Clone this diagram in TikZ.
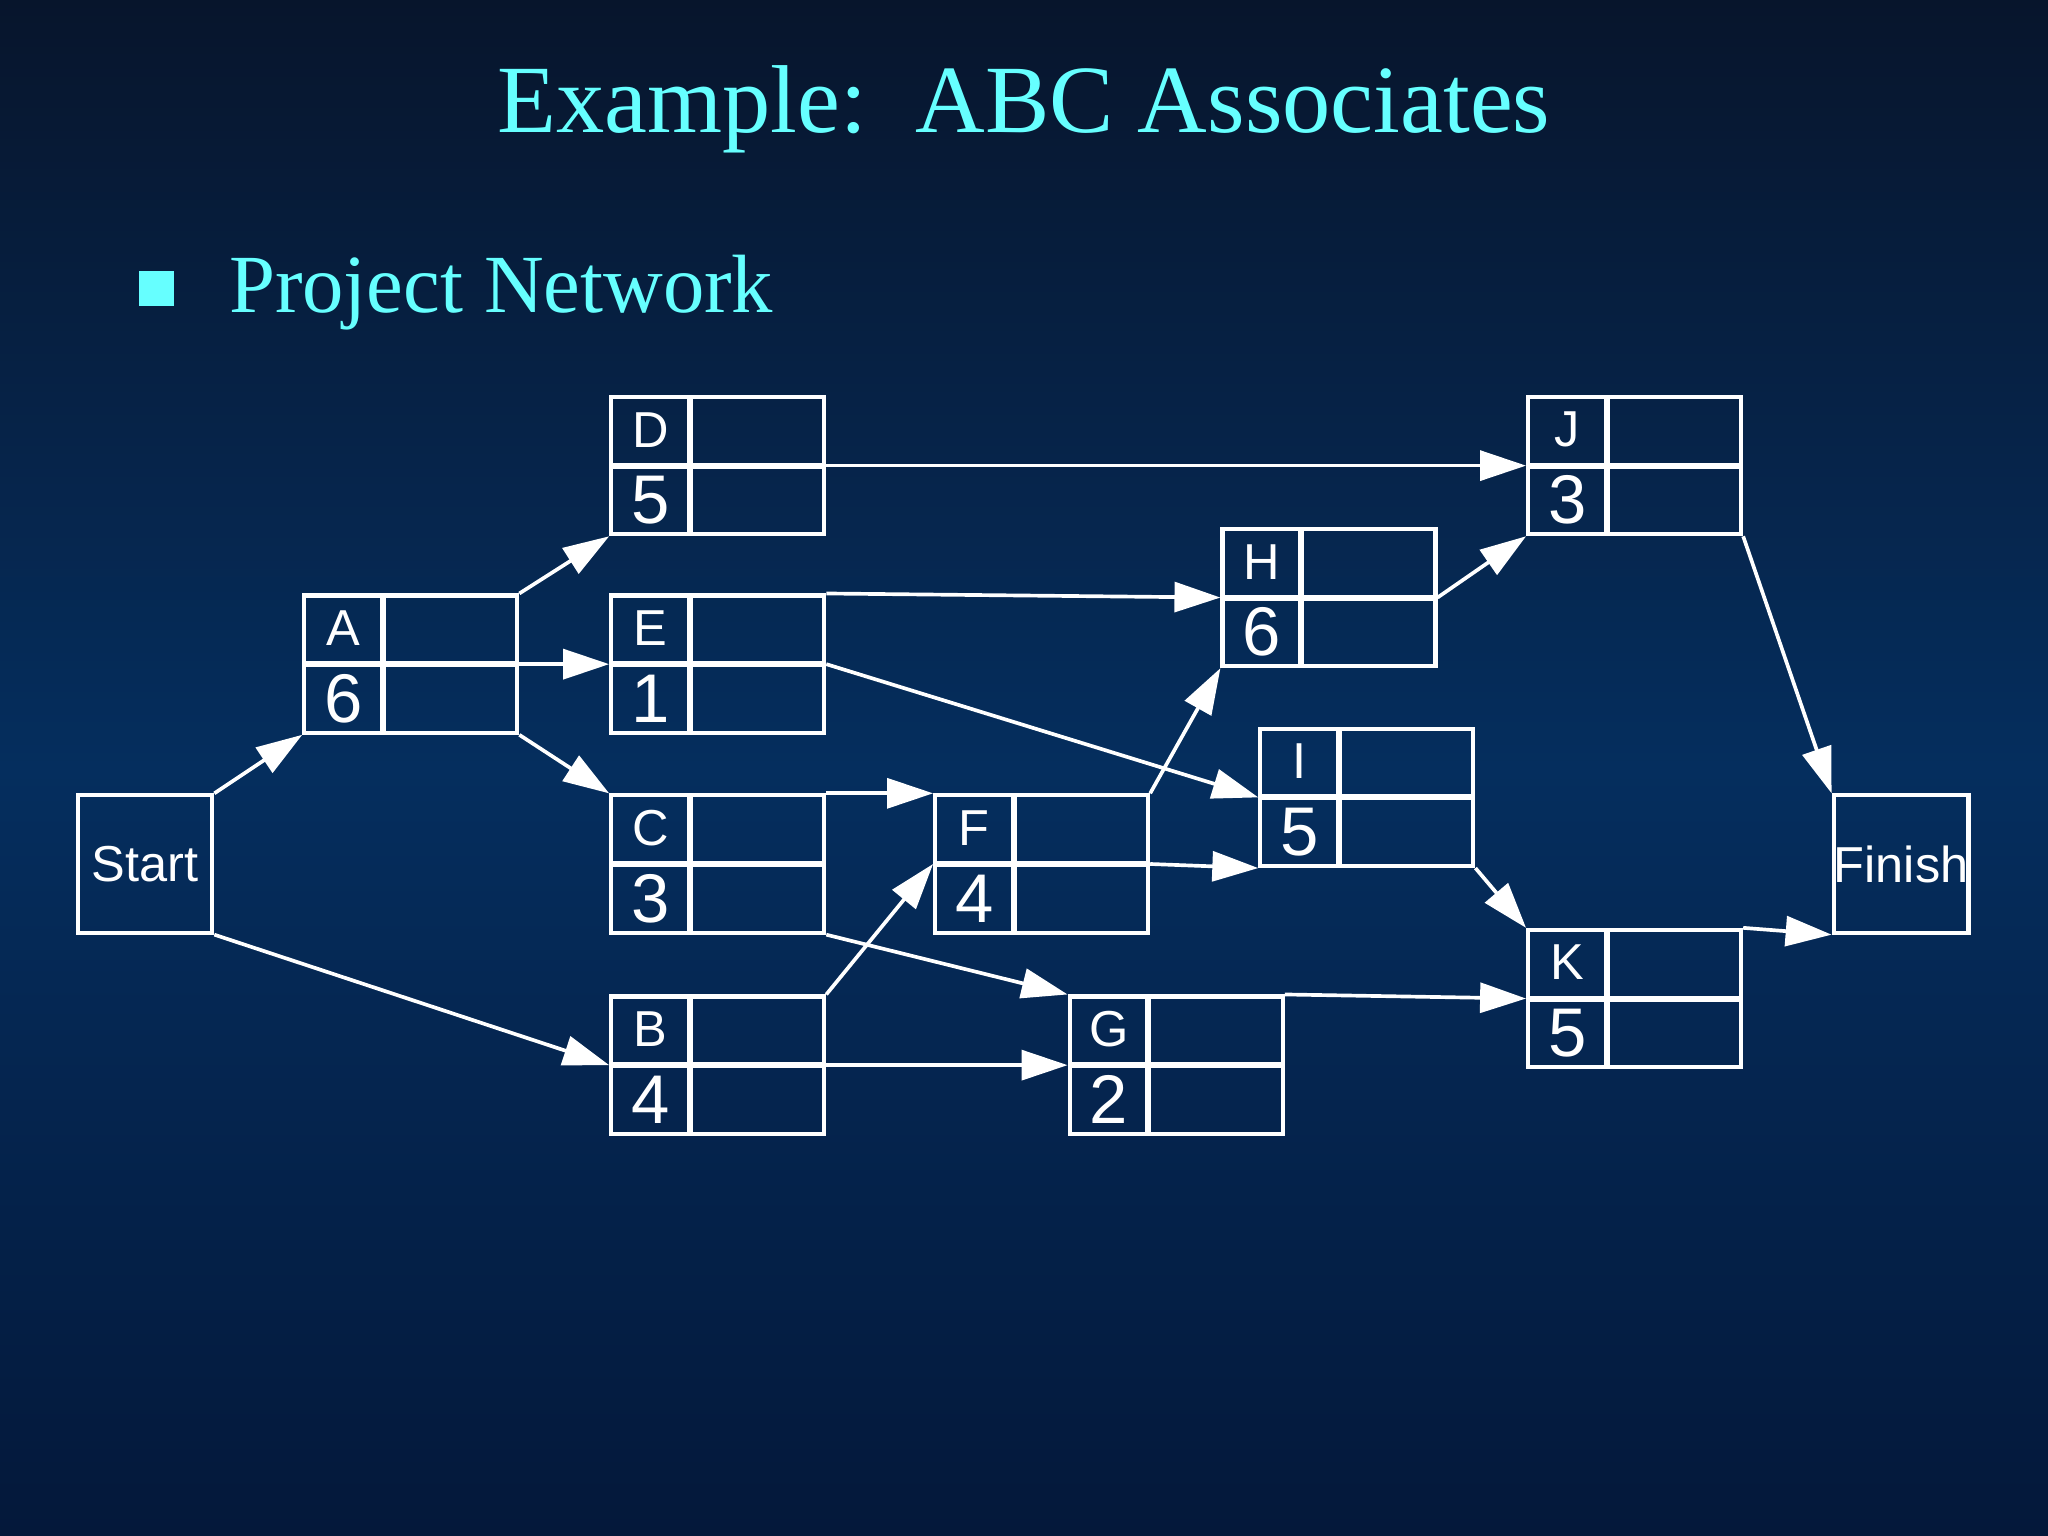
\documentclass[tikz,border=0pt]{standalone}
\usepackage{fontspec}
\setmainfont{Liberation Serif}
\newfontfamily\arialf{Liberation Sans}
\usetikzlibrary{arrows.meta}
\definecolor{ttl}{HTML}{66FFFF}
\definecolor{bgtop}{HTML}{07152C}
\definecolor{bgmid}{HTML}{052E5E}
\definecolor{bgbot}{HTML}{04183A}
\tikzset{
  actbox/.style={draw=white,line width=0.9pt,minimum width=1.63cm,minimum height=1.05cm,inner sep=0pt},
  endbox/.style={draw=white,line width=0.9pt,minimum width=1.03cm,minimum height=1.05cm,inner sep=0pt,text=white,font=\arialf\fontsize{11}{13}\selectfont},
  conn/.style={draw=white,line width=0.8pt,-{Triangle[length=10pt,width=6.5pt]}},
  lbl/.style={text=white,font=\arialf\fontsize{11}{13}\selectfont,inner sep=0pt},
  dur/.style={text=white,font=\arialf\fontsize{15}{17}\selectfont,inner sep=0pt}
}
\newcommand{\act}[5]{%
  \node[actbox] (#1) at (#2+81.5,#3+52.5) {};
  \draw[white,line width=1.3pt] (#2+60,#3) -- (#2+60,#3+105);
  \draw[white,line width=1.3pt] (#2,#3+52.5) -- (#2+163,#3+52.5);
  \node[lbl] (#1l) at (#2+30,#3+25) {#4};
  \node[dur] (#1d) at (#2+30,#3+79) {#5};
}
\begin{document}
\begin{tikzpicture}[x=0.01cm,y=-0.01cm]
\shade[top color=bgtop,bottom color=bgbot,middle color=bgmid] (0,0) rectangle (1568,1176);
\useasboundingbox (0,0) rectangle (1568,1176);
\node[text=ttl,font=\fontsize{21}{25}\selectfont] (title) at (784,84) {Example:\ \ ABC Associates};
\node[fill=ttl,minimum size=0.27cm,inner sep=0pt] (bul) at (120,221) {};
\node[text=ttl,font=\fontsize{18}{22}\selectfont,anchor=west] (sub) at (163,224) {Project Network};

\node[endbox] (S) at (111,661.5) {Start};
\node[endbox] (Fin) at (1455.5,661.5) {Finish};
\act{A}{233}{456}{A}{6}
\act{D}{468}{304}{D}{5}
\act{E}{468}{456}{E}{1}
\act{C}{468}{609}{C}{3}
\act{B}{468}{763}{B}{4}
\act{H}{936}{405}{H}{6}
\act{I}{965}{558}{I}{5}
\act{F}{716}{609}{F}{4}
\act{G}{819}{763}{G}{2}
\act{J}{1170}{304}{J}{3}
\act{K}{1170}{712}{K}{5}

\draw[conn] (S.north east) -- (A.south west);
\draw[conn] (S.south east) -- (B.west);
\draw[conn] (A.north east) -- (D.south west);
\draw[conn] (A.east) -- (E.west);
\draw[conn] (A.south east) -- (C.north west);
\draw[conn] (D.east) -- (J.west);
\draw[conn] (E.north east) -- (H.west);
\draw[conn] (E.east) -- (I.west);
\draw[conn] (C.north east) -- (F.north west);
\draw[conn] (C.south east) -- (G.north west);
\draw[conn] (B.north east) -- (F.west);
\draw[conn] (B.east) -- (G.west);
\draw[conn] (F.north east) -- (H.south west);
\draw[conn] (F.east) -- (I.south west);
\draw[conn] (H.east) -- (J.south west);
\draw[conn] (I.south east) -- (K.north west);
\draw[conn] (G.north east) -- (K.west);
\draw[conn] (J.south east) -- (Fin.north west);
\draw[conn] (K.north east) -- (Fin.south west);
\end{tikzpicture}
\end{document}
